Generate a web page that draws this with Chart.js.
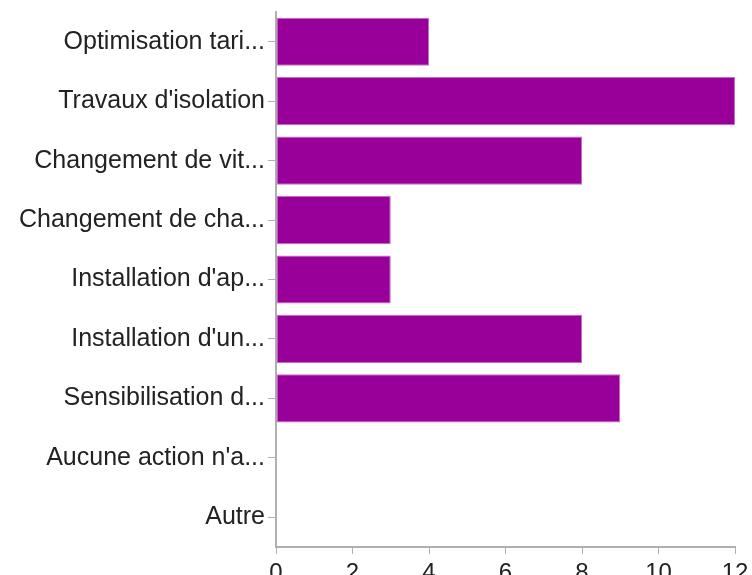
<!DOCTYPE html>
<html>
<head>
<meta charset="utf-8">
<script src="https://cdn.jsdelivr.net/npm/chart.js@4/dist/chart.umd.min.js"></script>
<style>
  html, body { margin: 0; padding: 0; background: #fff; }
  #myChart { display: block; }
</style>
</head>
<body>
<canvas id="myChart" width="752" height="575"></canvas>
<script>
const categories = ["Optimisation tari...", "Travaux d'isolation", "Changement de vit...", "Changement de cha...",
  "Installation d'ap...", "Installation d'un...", "Sensibilisation d...", "Aucune action n'a...", "Autre"]
const values = [4, 12, 8, 3, 3, 8, 9, 0, 0]
const xTicks = [0, 2, 4, 6, 8, 10, 12]
const barColor = "#990099"
const axisColor = "#b0b0b0"

Chart.defaults.font.family = "'Liberation Sans', Arial, Helvetica, sans-serif"
Chart.defaults.font.size = 25
Chart.defaults.color = "#222"

new Chart("myChart", {
  type: "bar",
  data: {
    labels: categories,
    datasets: [{
      data: values,
      backgroundColor: barColor,
      borderColor: "#c46ec4",
      borderWidth: 1,
      borderSkipped: false,
      barPercentage: 0.81,
      categoryPercentage: 1
    }]
  },
  options: {
    indexAxis: "y",
    responsive: false,
    animation: false,
    devicePixelRatio: 1,
    layout: { padding: { top: 12, right: 17, left: 0, bottom: 0 } },
    plugins: { legend: { display: false }, tooltip: { enabled: false } },
    scales: {
      x: {
        min: 0,
        max: xTicks[xTicks.length - 1],
        afterBuildTicks: function (axis) {
          axis.ticks = xTicks.map(v => ({ value: v }))
        },
        ticks: { padding: 5, maxRotation: 0, font: { size: 24 } },
        grid: { drawOnChartArea: false, drawTicks: true, tickLength: 7, color: axisColor },
        border: { color: axisColor, width: 2 },
        afterFit: function (axis) {
          axis.height = 28
          axis.paddingLeft = 0
          axis.paddingRight = 0
        }
      },
      y: {
        ticks: { padding: 3, autoSkip: false },
        grid: { drawOnChartArea: false, drawTicks: true, tickLength: 8, offset: false, color: axisColor },
        border: { color: axisColor, width: 2 },
        afterFit: function (axis) {
          axis.width = 276
          axis.paddingTop = 0
          axis.paddingBottom = 0
        }
      }
    }
  }
})
</script>
</body>
</html>
